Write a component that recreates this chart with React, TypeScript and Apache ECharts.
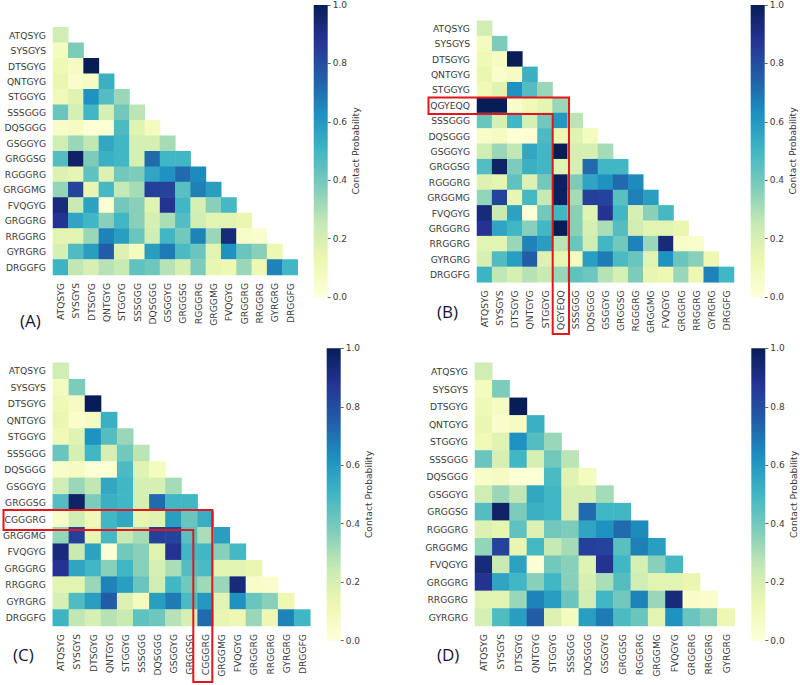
import React, { useEffect, useRef } from "react";
import * as echarts from "echarts";

const labelsA = ["ATQSYG","SYSGYS","DTSGYG","QNTGYG","STGGYG","SSSGGG","DQSGGG","GSGGYG","GRGGSG","RGGGRG","GRGGMG","FVQGYG","GRGGRG","RRGGRG","GYRGRG","DRGGFG"];
const labelsB = ["ATQSYG","SYSGYS","DTSGYG","QNTGYG","STGGYG","QGYEQQ","SSSGGG","DQSGGG","GSGGYG","GRGGSG","RGGGRG","GRGGMG","FVQGYG","GRGGRG","RRGGRG","GYRGRG","DRGGFG"];
const labelsC = ["ATQSYG","SYSGYS","DTSGYG","QNTGYG","STGGYG","SSSGGG","DQSGGG","GSGGYG","GRGGSG","CGGGRG","GRGGMG","FVQGYG","GRGGRG","RRGGRG","GYRGRG","DRGGFG"];
const labelsD = ["ATQSYG","SYSGYS","DTSGYG","QNTGYG","STGGYG","SSSGGG","DQSGGG","GSGGYG","GRGGSG","RGGGRG","GRGGMG","FVQGYG","GRGGRG","RRGGRG","GYRGRG"];

const valuesA = [
  [.22],
  [.08,.38],
  [.11,.07,1],
  [.13,.04,.07,.52],
  [.1,.17,.62,.46,.33],
  [.42,.2,.5,.2,.4,.27],
  [.05,.07,.02,.02,.48,.17,.08],
  [.22,.33,.26,.55,.5,.2,.2,.31],
  [.46,.97,.38,.52,.5,.2,.72,.5,.5],
  [.18,.15,.44,.18,.4,.38,.56,.62,.72,.64],
  [.34,.83,.14,.49,.25,.31,.84,.83,.45,.67,.58],
  [.93,.24,.57,.02,.4,.36,.17,.88,.5,.2,.36,.49],
  [.88,.56,.5,.36,.5,.36,.2,.3,.46,.22,.16,.16,.13],
  [.16,.16,.33,.66,.58,.42,.22,.5,.4,.66,.33,.93,.05,.04],
  [.2,.47,.58,.76,.18,.08,.58,.68,.48,.42,.16,.62,.42,.36,.12],
  [.51,.26,.2,.28,.24,.44,.41,.28,.2,.38,.14,.12,.33,.12,.66,.5],
];
const valuesB = [
  [.22],
  [.08,.38],
  [.11,.07,1],
  [.13,.04,.07,.52],
  [.1,.17,.62,.46,.33],
  [1,1,.05,.1,.15,.33],
  [.42,.2,.5,.2,.4,.6,.27],
  [.05,.07,.02,.02,.48,.12,.17,.08],
  [.22,.33,.26,.55,.5,1,.2,.2,.31],
  [.46,.97,.38,.52,.5,.17,.2,.72,.5,.5],
  [.18,.15,.44,.18,.4,.98,.38,.56,.62,.72,.64],
  [.34,.83,.14,.49,.25,.98,.31,.84,.83,.45,.67,.58],
  [.93,.24,.57,.02,.4,.5,.36,.17,.88,.5,.2,.36,.49],
  [.88,.56,.5,.36,.5,1,.36,.2,.3,.46,.22,.16,.16,.13],
  [.16,.16,.33,.66,.58,.27,.42,.22,.5,.4,.66,.33,.93,.05,.04],
  [.2,.47,.58,.76,.18,.14,.08,.58,.68,.48,.42,.16,.62,.42,.36,.12],
  [.51,.26,.2,.28,.24,.33,.44,.41,.28,.2,.38,.14,.12,.33,.12,.66,.5],
];
const valuesC = [
  [.22],
  [.08,.38],
  [.11,.07,1],
  [.13,.04,.07,.52],
  [.1,.17,.62,.46,.33],
  [.42,.2,.5,.2,.4,.27],
  [.05,.07,.02,.02,.48,.17,.08],
  [.22,.33,.26,.55,.5,.2,.2,.31],
  [.46,.97,.38,.52,.5,.2,.72,.5,.5],
  [.05,.22,.1,.5,.55,.14,.17,.58,.42,.53],
  [.34,.84,.14,.49,.25,.31,.84,.83,.45,.3,.58],
  [.93,.24,.57,.02,.4,.36,.17,.88,.5,.5,.36,.49],
  [.88,.56,.5,.36,.5,.36,.2,.3,.46,.48,.16,.16,.13],
  [.16,.16,.33,.66,.58,.42,.22,.5,.4,.32,.33,.93,.05,.04],
  [.2,.47,.58,.76,.18,.08,.58,.68,.48,.6,.16,.62,.42,.36,.12],
  [.51,.26,.2,.28,.24,.44,.41,.28,.2,.72,.14,.12,.33,.12,.66,.5],
];
const valuesD = [
  [.22],
  [.08,.38],
  [.11,.07,1],
  [.13,.04,.07,.52],
  [.1,.17,.62,.46,.33],
  [.42,.2,.5,.2,.4,.27],
  [.05,.07,.02,.02,.48,.17,.08],
  [.22,.33,.26,.55,.5,.2,.2,.31],
  [.46,.97,.38,.52,.5,.2,.72,.5,.5],
  [.18,.15,.44,.18,.4,.38,.56,.62,.72,.64],
  [.34,.83,.14,.49,.25,.31,.84,.83,.45,.67,.58],
  [.93,.24,.57,.02,.4,.36,.17,.88,.5,.2,.36,.49],
  [.88,.56,.5,.36,.5,.36,.2,.3,.46,.22,.16,.16,.13],
  [.16,.16,.33,.66,.58,.42,.22,.5,.4,.66,.33,.93,.05,.04],
  [.2,.47,.58,.76,.18,.08,.58,.68,.48,.42,.16,.62,.42,.36,.12],
];
const colorbarTop = [1];
const YLGNBU = ["#ffffd9","#edf8b1","#c7e9b4","#7fcdbb","#41b6c4","#1d91c0","#225ea8","#253494","#081d58"];

const FONT = "DejaVu Sans";
const TXT = "#3a3a3a";
const panels = [
  { labels: labelsA, values: valuesA, left: 53, top: 27.3, width: 244.7, height: 247.7, cbLeft: 313.7, cbTop: 5, cbH: 292, tag: "(A)", tagX: 20, tagY: 320 },
  { labels: labelsB, values: valuesB, left: 477, top: 20.7, width: 257, height: 261.6, cbLeft: 750.7, cbTop: 5, cbH: 292, tag: "(B)", tagX: 437, tagY: 311 },
  { labels: labelsC, values: valuesC, left: 50, top: 362.7, width: 260.3, height: 263.3, cbLeft: 326.7, cbTop: 348.3, cbH: 292.4, tag: "(C)", tagX: 13, tagY: 654 },
  { labels: labelsD, values: valuesD, left: 475, top: 362.7, width: 259.7, height: 263.3, cbLeft: 751.3, cbTop: 348.3, cbH: 292.4, tag: "(D)", tagX: 437, tagY: 654 },
];

const redB = [[428.5,97.5],[569,97.5],[569,334],[552.7,334],[552.7,114],[428.5,114]];
const redC = [[3.5,510],[212.3,510],[212.3,682],[193.3,682],[193.3,530],[3.5,530]];

export default function App() {
  const ref = useRef<HTMLDivElement>(null);
  useEffect(() => {
    const chart = echarts.init(ref.current!, undefined, { renderer: "svg" });
    const grid: any[] = [], xAxis: any[] = [], yAxis: any[] = [], series: any[] = [];
    panels.forEach((p, i) => {
      grid.push({ left: p.left, top: p.top, width: p.width, height: p.height });
      xAxis.push({
        type: "category", gridIndex: i, data: p.labels, position: "bottom",
        axisLine: { show: false }, axisTick: { show: false }, splitLine: { show: false },
        axisLabel: { interval: 0, rotate: 90, margin: 8, fontSize: 9.2, fontFamily: FONT, color: TXT },
      });
      yAxis.push({
        type: "category", gridIndex: i, data: p.labels, inverse: true,
        axisLine: { show: false }, axisTick: { show: false }, splitLine: { show: false },
        axisLabel: { interval: 0, margin: 7, fontSize: 9.2, fontFamily: FONT, color: TXT },
      });
      const data: number[][] = [];
      p.values.forEach((row, y) => row.forEach((v, x) => data.push([x, y, v])));
      series.push({
        type: "heatmap", xAxisIndex: i, yAxisIndex: i, data,
        itemStyle: { borderWidth: 0 }, progressive: 0, emphasis: { disabled: true },
      });
    });
    panels.forEach((p, i) => {
      const k = panels.length + i;
      grid.push({ left: p.cbLeft, top: p.cbTop, width: 14, height: p.cbH });
      xAxis.push({ type: "category", gridIndex: k, data: [""], show: false });
      yAxis.push({
        type: "value", gridIndex: k, min: 0, max: 1, interval: 0.2, position: "right",
        axisLine: { show: false },
        axisTick: { show: true, length: 3, lineStyle: { color: TXT, width: 0.8 } },
        splitLine: { show: false },
        axisLabel: { margin: 5, fontSize: 9, fontFamily: FONT, color: TXT, formatter: (v: number) => v.toFixed(1) },
        name: "Contact Probability", nameLocation: "middle", nameRotate: 90, nameGap: 23,
        nameTextStyle: { fontSize: 9.2, fontFamily: FONT, color: TXT },
      });
      series.push({
        type: "bar", xAxisIndex: k, yAxisIndex: k, data: colorbarTop, barWidth: "100%", silent: true,
        itemStyle: {
          color: new echarts.graphic.LinearGradient(0, 1, 0, 0,
            YLGNBU.map((c, j) => ({ offset: j / (YLGNBU.length - 1), color: c }))),
        },
      });
    });
    const graphic: any[] = panels.map((p) => ({
      type: "text", x: p.tagX, y: p.tagY,
      style: { text: p.tag, font: "17px 'Open Sans'", fill: "#14143c", textVerticalAlign: "middle" },
    }));
    [redB, redC].forEach((points) => {
      graphic.push({
        type: "polygon", z: 100, shape: { points },
        style: { fill: "none", stroke: "#e3161c", lineWidth: 2 },
      });
    });
    chart.setOption({
      animation: false, backgroundColor: "#fff", grid, xAxis, yAxis, series, graphic,
      visualMap: {
        show: false, type: "continuous", min: 0, max: 1, seriesIndex: [0, 1, 2, 3],
        inRange: { color: YLGNBU },
      },
    });
    return () => chart.dispose();
  }, []);
  return <div ref={ref} style={{ position: "fixed", left: 0, top: 0, width: 800, height: 685 }} />;
}
